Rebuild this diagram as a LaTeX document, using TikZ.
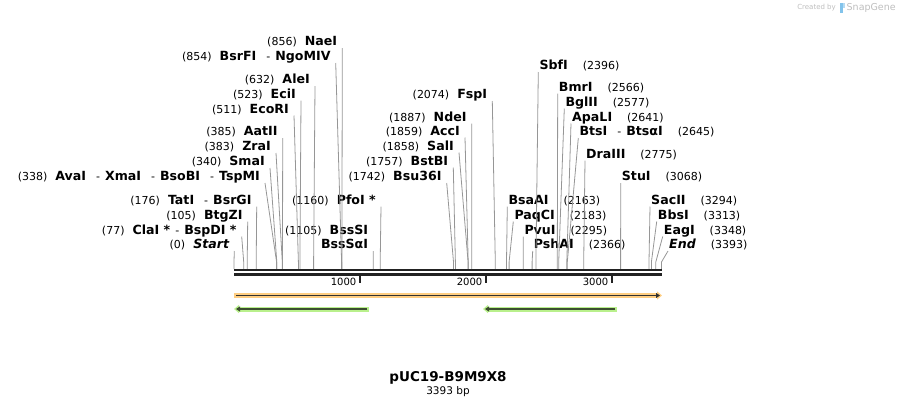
\documentclass[tikz,border=0pt]{standalone}
\usepackage{fontspec}
\setmainfont{DejaVu Sans}
\usetikzlibrary{arrows.meta}
\definecolor{cutgray}{RGB}{150,150,150}
\definecolor{bardark}{RGB}{34,34,34}
\definecolor{featorange}{RGB}{255,206,130}
\definecolor{featgreen}{RGB}{185,240,140}
\definecolor{featline}{RGB}{50,50,50}
\definecolor{greenline}{RGB}{60,78,48}
\definecolor{logogray}{RGB}{190,190,190}
\definecolor{logoblue}{RGB}{130,195,235}
\newcommand{\cutpos}[1]{{\fontsize{11}{13}\selectfont(#1)}}
\newcommand{\enzname}[1]{{\fontsize{12.6}{14}\selectfont\bfseries #1}}
\newcommand{\enzsep}{\hspace{10pt}-\hspace{5pt}}

\begin{document}
\begin{tikzpicture}[x=1pt, y=-1pt]
        %style
        \tikzset{lbl/.style = {inner ysep=0pt, text depth=2pt, font=\fontsize{11}{14.5}\selectfont}}
        \tikzset{lft/.style = {lbl, anchor=south east, inner xsep=5pt, align=right}}
        \tikzset{rgt/.style = {lbl, anchor=south west, inner xsep=1pt}}
        \tikzset{cut/.style = {draw=cutgray, line width=0.8pt}}
        \tikzset{bar/.style = {draw=bardark, line width=2.4pt}}
        \tikzset{tick/.style = {draw=bardark, line width=1.3pt}}
        \tikzset{ruler/.style = {anchor=east, inner sep=0pt, font=\fontsize{10}{12}\selectfont}}
        \tikzset{orangeband/.style = {draw=featorange, fill=featorange, line width=5pt, -{Triangle[width=8pt,length=5pt]}}}
        \tikzset{greenband/.style = {draw=featgreen, fill=featgreen, line width=5pt, -{Triangle[width=8pt,length=5pt]}}}
        \tikzset{orangeline/.style = {draw=featline, fill=featline, line width=1.3pt, -{Triangle[width=5pt,length=4pt]}}}
        \tikzset{greenline/.style = {draw=greenline, fill=greenline, line width=1.3pt, -{Triangle[width=5pt,length=4pt]}}}
        \useasboundingbox (0,0) rectangle (897,408);

        % cut sites, just above the bar
        \coordinate (p0)    at (234.0,262);
        \coordinate (p77)   at (243.7,262);
        \coordinate (p105)  at (247.2,262);
        \coordinate (p176)  at (256.2,262);
        \coordinate (p338)  at (276.6,262);
        \coordinate (p340)  at (276.8,262);
        \coordinate (p383)  at (282.3,262);
        \coordinate (p385)  at (282.5,262);
        \coordinate (p511)  at (298.4,262);
        \coordinate (p523)  at (299.9,262);
        \coordinate (p632)  at (313.6,262);
        \coordinate (p854)  at (341.6,262);
        \coordinate (p856)  at (341.9,262);
        \coordinate (p1105) at (373.2,262);
        \coordinate (p1160) at (380.2,262);
        \coordinate (p1742) at (453.5,262);
        \coordinate (p1757) at (455.4,262);
        \coordinate (p1858) at (468.1,262);
        \coordinate (p1859) at (468.2,262);
        \coordinate (p1887) at (471.8,262);
        \coordinate (p2074) at (495.3,262);
        \coordinate (p2163) at (506.5,262);
        \coordinate (p2183) at (509.1,262);
        \coordinate (p2295) at (523.2,262);
        \coordinate (p2366) at (532.1,262);
        \coordinate (p2396) at (535.9,262);
        \coordinate (p2566) at (557.3,262);
        \coordinate (p2577) at (558.7,262);
        \coordinate (p2641) at (566.8,262);
        \coordinate (p2645) at (567.3,262);
        \coordinate (p2775) at (583.7,262);
        \coordinate (p3068) at (620.6,262);
        \coordinate (p3294) at (649.0,262);
        \coordinate (p3313) at (651.4,262);
        \coordinate (p3348) at (655.8,262);
        \coordinate (p3393) at (661.5,262);

        % labels on the left of their line
        \node[lft] (naeI)   at (342.3,48)    {\cutpos{856}\hspace{8pt}\enzname{NaeI}};
        \node[lft] (ngoMIV) at (335.7,63)    {\cutpos{854}\hspace{8pt}\enzname{BsrFI}\enzsep\enzname{NgoMIV}};
        \node[lft] (aleI)   at (315.0,86)    {\cutpos{632}\hspace{8pt}\enzname{AleI}};
        \node[lft] (eciI)   at (301.0,100.5) {\cutpos{523}\hspace{8pt}\enzname{EciI}};
        \node[lft] (ecoRI)  at (294.0,115.5) {\cutpos{511}\hspace{8pt}\enzname{EcoRI}};
        \node[lft] (aatII)  at (282.7,138)   {\cutpos{385}\hspace{8pt}\enzname{AatII}};
        \node[lft] (zraI)   at (276.0,153)   {\cutpos{383}\hspace{8pt}\enzname{ZraI}};
        \node[lft] (smaI)   at (270.0,168)   {\cutpos{340}\hspace{8pt}\enzname{SmaI}};
        \node[lft] (avaI)   at (265.0,183)   {\cutpos{338}\hspace{8pt}\enzname{AvaI}\enzsep\enzname{XmaI}\enzsep\enzname{BsoBI}\enzsep\enzname{TspMI}};
        \node[lft] (tatI)   at (256.7,206.5) {\cutpos{176}\hspace{8pt}\enzname{TatI}\enzsep\enzname{BsrGI}};
        \node[lft] (btgZI)  at (247.7,221.5) {\cutpos{105}\hspace{8pt}\enzname{BtgZI}};
        \node[lft] (claI)   at (241.7,236.5) {\cutpos{77}\hspace{8pt}\enzname{ClaI *}\hspace{5pt}-\hspace{5pt}\enzname{BspDI *}};
        \node[lft] (seqstart) at (234.3,251) {\cutpos{0}\hspace{8pt}\enzname{\itshape Start}};
        \node[lft] (pfoI)   at (381.0,206.5) {\cutpos{1160}\hspace{8pt}\enzname{PfoI *}};
        \node[lft] (bssSI)  at (373.3,251)   {\cutpos{1105}\hspace{8pt}\enzname{BssSI}\\\enzname{BssSαI}};
        \node[lft] (fspI)   at (492.3,101)   {\cutpos{2074}\hspace{8pt}\enzname{FspI}};
        \node[lft] (ndeI)   at (471.7,123.5) {\cutpos{1887}\hspace{8pt}\enzname{NdeI}};
        \node[lft] (accI)   at (465.0,137.5) {\cutpos{1859}\hspace{8pt}\enzname{AccI}};
        \node[lft] (salI)   at (459.0,152.5) {\cutpos{1858}\hspace{8pt}\enzname{SalI}};
        \node[lft] (bstBI)  at (453.3,167.5) {\cutpos{1757}\hspace{8pt}\enzname{BstBI}};
        \node[lft] (bsu36I) at (446.7,183)   {\cutpos{1742}\hspace{8pt}\enzname{Bsu36I}};

        % labels on the right of their line
        \node[rgt] (sbfI)   at (538.3,72)    {\enzname{SbfI}\hspace{15pt}\cutpos{2396}};
        \node[rgt] (bmrI)   at (557.7,93.5)  {\enzname{BmrI}\hspace{15pt}\cutpos{2566}};
        \node[rgt] (bglII)  at (564.3,108.5) {\enzname{BglII}\hspace{15pt}\cutpos{2577}};
        \node[rgt] (apaLI)  at (571.0,123.5) {\enzname{ApaLI}\hspace{15pt}\cutpos{2641}};
        \node[rgt] (btsI)   at (578.3,138)   {\enzname{BtsI}\enzsep\enzname{BtsαI}\hspace{15pt}\cutpos{2645}};
        \node[rgt] (draIII) at (585.0,160.5) {\enzname{DraIII}\hspace{15pt}\cutpos{2775}};
        \node[rgt] (stuI)   at (620.7,183)   {\enzname{StuI}\hspace{15pt}\cutpos{3068}};
        \node[rgt] (bsaAI)  at (507.3,206.5) {\enzname{BsaAI}\hspace{15pt}\cutpos{2163}};
        \node[rgt] (paqCI)  at (513.3,221.5) {\enzname{PaqCI}\hspace{15pt}\cutpos{2183}};
        \node[rgt] (pvuI)   at (523.3,236.5) {\enzname{PvuI}\hspace{15pt}\cutpos{2295}};
        \node[rgt] (pshAI)  at (532.7,251)   {\enzname{PshAI}\hspace{15pt}\cutpos{2366}};
        \node[rgt] (sacII)  at (650.0,206.5) {\enzname{SacII}\hspace{15pt}\cutpos{3294}};
        \node[rgt] (bbsI)   at (656.7,221.5) {\enzname{BbsI}\hspace{15pt}\cutpos{3313}};
        \node[rgt] (eagI)   at (662.7,236.5) {\enzname{EagI}\hspace{15pt}\cutpos{3348}};
        \node[rgt] (seqend) at (668.0,251)   {\enzname{\itshape End}\hspace{15pt}\cutpos{3393}};

        % connectors
        \draw[cut] (naeI.south east)     -- (p856)  -- ++(0,7);
        \draw[cut] (ngoMIV.south east)   -- (p854)  -- ++(0,7);
        \draw[cut] (aleI.south east)     -- (p632)  -- ++(0,7);
        \draw[cut] (eciI.south east)     -- (p523)  -- ++(0,7);
        \draw[cut] (ecoRI.south east)    -- (p511)  -- ++(0,7);
        \draw[cut] (aatII.south east)    -- (p385)  -- ++(0,7);
        \draw[cut] (zraI.south east)     -- (p383)  -- ++(0,7);
        \draw[cut] (smaI.south east)     -- (p340)  -- ++(0,7);
        \draw[cut] (avaI.south east)     -- (p338)  -- ++(0,7);
        \draw[cut] (tatI.south east)     -- (p176)  -- ++(0,7);
        \draw[cut] (btgZI.south east)    -- (p105)  -- ++(0,7);
        \draw[cut] (claI.south east)     -- (p77)   -- ++(0,7);
        \draw[cut] (seqstart.south east) -- (p0)    -- ++(0,7);
        \draw[cut] (pfoI.south east)     -- (p1160) -- ++(0,7);
        \draw[cut] (bssSI.south east)    -- (p1105) -- ++(0,7);
        \draw[cut] (fspI.south east)     -- (p2074) -- ++(0,7);
        \draw[cut] (ndeI.south east)     -- (p1887) -- ++(0,7);
        \draw[cut] (accI.south east)     -- (p1859) -- ++(0,7);
        \draw[cut] (salI.south east)     -- (p1858) -- ++(0,7);
        \draw[cut] (bstBI.south east)    -- (p1757) -- ++(0,7);
        \draw[cut] (bsu36I.south east)   -- (p1742) -- ++(0,7);
        \draw[cut] (sbfI.south west)     -- (p2396) -- ++(0,7);
        \draw[cut] (bmrI.south west)     -- (p2566) -- ++(0,7);
        \draw[cut] (bglII.south west)    -- (p2577) -- ++(0,7);
        \draw[cut] (apaLI.south west)    -- (p2641) -- ++(0,7);
        \draw[cut] (btsI.south west)     -- (p2645) -- ++(0,7);
        \draw[cut] (draIII.south west)   -- (p2775) -- ++(0,7);
        \draw[cut] (stuI.south west)     -- (p3068) -- ++(0,7);
        \draw[cut] (bsaAI.south west)    -- (p2163) -- ++(0,7);
        \draw[cut] (paqCI.south west)    -- (p2183) -- ++(0,7);
        \draw[cut] (pvuI.south west)     -- (p2295) -- ++(0,7);
        \draw[cut] (pshAI.south west)    -- (p2366) -- ++(0,7);
        \draw[cut] (sacII.south west)    -- (p3294) -- ++(0,7);
        \draw[cut] (bbsI.south west)     -- (p3313) -- ++(0,7);
        \draw[cut] (eagI.south west)     -- (p3348) -- ++(0,7);
        \draw[cut] (seqend.south west)   -- (p3393) -- ++(0,7);

        % sequence bar and ruler
        \draw[bar] (234,270) -- (662,270);
        \draw[bar] (234,274.3) -- (662,274.3);
        \draw[tick] (360,275) -- (360,283);
        \draw[tick] (486,275) -- (486,283);
        \draw[tick] (612,275) -- (612,283);
        \node[ruler] (k1000) at (356.5,282) {1000};
        \node[ruler] (k2000) at (482.5,282) {2000};
        \node[ruler] (k3000) at (608.5,282) {3000};

        % features
        \draw[orangeband] (234,295.5) -- (662,295.5);
        \draw[orangeline] (236,295.5) -- (660,295.5);
        \draw[greenband] (369,309) -- (234,309);
        \draw[greenline] (367,309) -- (236,309);
        \draw[greenband] (617,309) -- (483,309);
        \draw[greenline] (615,309) -- (485,309);

        % name
        \node (title)  at (448,378) {\fontsize{13.5}{16}\selectfont\bfseries pUC19-B9M9X8};
        \node (length) at (448,391.5) {\fontsize{10.5}{12}\selectfont 3393 bp};

        % snapgene mark
        \node[anchor=east, inner sep=0pt, text=logogray] (createdby) at (836,7.5) {\fontsize{7}{8}\selectfont Created by};
        \fill[logoblue] (839.5,2.5) rectangle (842.5,13);
        \fill[logoblue!60] (842.5,2.5) rectangle (845,8);
        \node[anchor=west, inner sep=0pt, text=logogray] (snapgene) at (846.5,7.5) {\fontsize{9.5}{11}\selectfont SnapGene};
\end{tikzpicture}
\end{document}
